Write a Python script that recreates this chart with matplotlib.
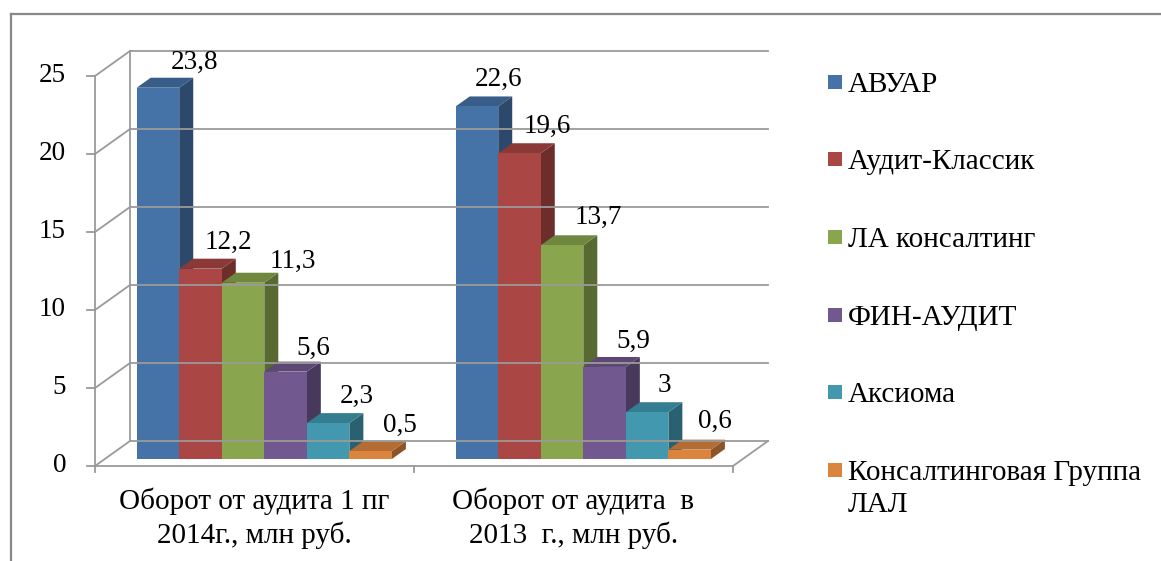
import numpy as np
import matplotlib.pyplot as plt
from matplotlib.patches import Polygon, Rectangle
from matplotlib.lines import Line2D

plt.rcParams['font.family'] = ['Liberation Serif', 'DejaVu Serif']

# ---------------------------------------------------------
# данные
# ---------------------------------------------------------
categories = ["Оборот от аудита 1 пг\n2014г., млн руб.",
              "Оборот от аудита  в\n2013  г., млн руб."]
companies = ["АВУАР", "Аудит-Классик", "ЛА консалтинг", "ФИН-АУДИТ",
             "Аксиома", "Консалтинговая Группа\nЛАЛ"]
values_2014 = [23.8, 12.2, 11.3, 5.6, 2.3, 0.5]
values_2013 = [22.6, 19.6, 13.7, 5.9, 3.0, 0.6]
series = [values_2014, values_2013]
y_ticks = [0, 5, 10, 15, 20, 25]

colors = ["#4572A7", "#AA4643", "#89A54E", "#71588F", "#4198AF", "#DB843D"]

# сдвиги подписей значений (пиксели), как в исходной диаграмме
label_dx = [[37, 28, 50, 28, 29, 29], [22, 28, 36, 29, 17, 25]]
label_dy = [[25, 26, 21, 23, 27, 26], [27, 27, 28, 26, 27, 28]]

# ---------------------------------------------------------
# геометрия "3D"
# ---------------------------------------------------------
W, H = 1161, 561
PX_X = 319.0      # пикселей на категорию
PX_Y = 15.6       # пикселей на единицу
X0, Y0 = 95, 466  # начало осей в пикселях
DX = 35 / PX_X    # глубина стенки
DY = 25 / PX_Y
F0, F1 = 0.28, 0.68   # положение столбиков по глубине
BAR_W = 0.8 / len(companies)
GRID = "#9a9a9a"
FS_VAL = 19.5
FS_TXT = 21

fig = plt.figure(figsize=(W / 100, H / 100), dpi=100)
ax = fig.add_axes([0, 0, 1, 1])
ax.set_xlim(-X0 / PX_X, (W - X0) / PX_X)
ax.set_ylim((Y0 - H) / PX_Y, Y0 / PX_Y)
ax.axis("off")


def shade(c, k):
    r, g, b = [int(c[i:i + 2], 16) / 255 for i in (1, 3, 5)]
    return (r * k, g * k, b * k)


n_cat = len(categories)
ymax = y_ticks[-1]

# стенки и сетка
for v in y_ticks:
    ax.plot([DX, n_cat + DX], [v + DY, v + DY], color=GRID, lw=1.3)
    ax.plot([0, DX], [v, v + DY], color=GRID, lw=1.3)
    ax.plot([-8 / PX_X, 0], [v, v], color=GRID, lw=1.3)
    ax.text(-29 / PX_X, v, str(v), ha="right", va="center", fontsize=FS_VAL)
ax.plot([DX, DX], [DY, ymax + DY], color=GRID, lw=1.3)
ax.plot([0, 0], [0, ymax], color=GRID, lw=1.3)
ax.plot([0, n_cat], [0, 0], color=GRID, lw=1.3)
ax.plot([n_cat, n_cat + DX], [0, DY], color=GRID, lw=1.3)
for i in range(n_cat + 1):
    ax.plot([i, i], [0, -6 / PX_Y], color=GRID, lw=1.3)

# столбики
for i, vals in enumerate(series):
    for j, h in enumerate(vals):
        x = i + 0.5 + (j - len(vals) / 2) * BAR_W + F0 * DX
        y = F0 * DY
        ddx = (F1 - F0) * DX
        ddy = (F1 - F0) * DY
        c = colors[j]
        side = Polygon([(x + BAR_W, y), (x + BAR_W + ddx, y + ddy),
                        (x + BAR_W + ddx, y + h + ddy), (x + BAR_W, y + h)],
                       closed=True, fc=shade(c, 0.64), ec="none")
        top = Polygon([(x, y + h), (x + ddx, y + h + ddy),
                       (x + BAR_W + ddx, y + h + ddy), (x + BAR_W, y + h)],
                      closed=True, fc=shade(c, 0.82), ec="none")
        front = Rectangle((x, y), BAR_W, h, fc=c, ec="none")
        for p in (side, top, front):
            ax.add_patch(p)
        label = f"{h:g}".replace(".", ",")
        ax.annotate(label, (x + BAR_W / 2, y + h),
                    xytext=(label_dx[i][j], label_dy[i][j]),
                    textcoords="offset pixels", ha="center", va="center",
                    fontsize=FS_VAL)

# подписи категорий (по строкам)
for i, name in enumerate(categories):
    for k, line in enumerate(name.split("\n")):
        ax.text(i + 0.5, (Y0 - 509 - 34 * k) / PX_Y, line, ha="center",
                va="baseline", fontsize=FS_TXT)

# легенда
leg_base = [92, 169, 247, 325, 402, 480]
for j, name in enumerate(companies):
    yb = leg_base[j]
    fig.patches.append(Rectangle((828 / W, 1 - (yb - 3) / H), 14 / W, 14 / H,
                                 fc=colors[j], ec="none",
                                 transform=fig.transFigure))
    for k, line in enumerate(name.split("\n")):
        fig.text(848 / W, 1 - (yb + 32 * k) / H, line, ha="left",
                 va="baseline", fontsize=FS_TXT)

# рамка
fig.add_artist(Line2D([11 / W, 1], [1 - 14 / H, 1 - 14 / H], color="#888888",
                      lw=1.6, transform=fig.transFigure))
fig.add_artist(Line2D([11 / W, 11 / W], [0, 1 - 14 / H], color="#888888",
                      lw=1.6, transform=fig.transFigure))

fig.savefig("out.png", dpi=100)
